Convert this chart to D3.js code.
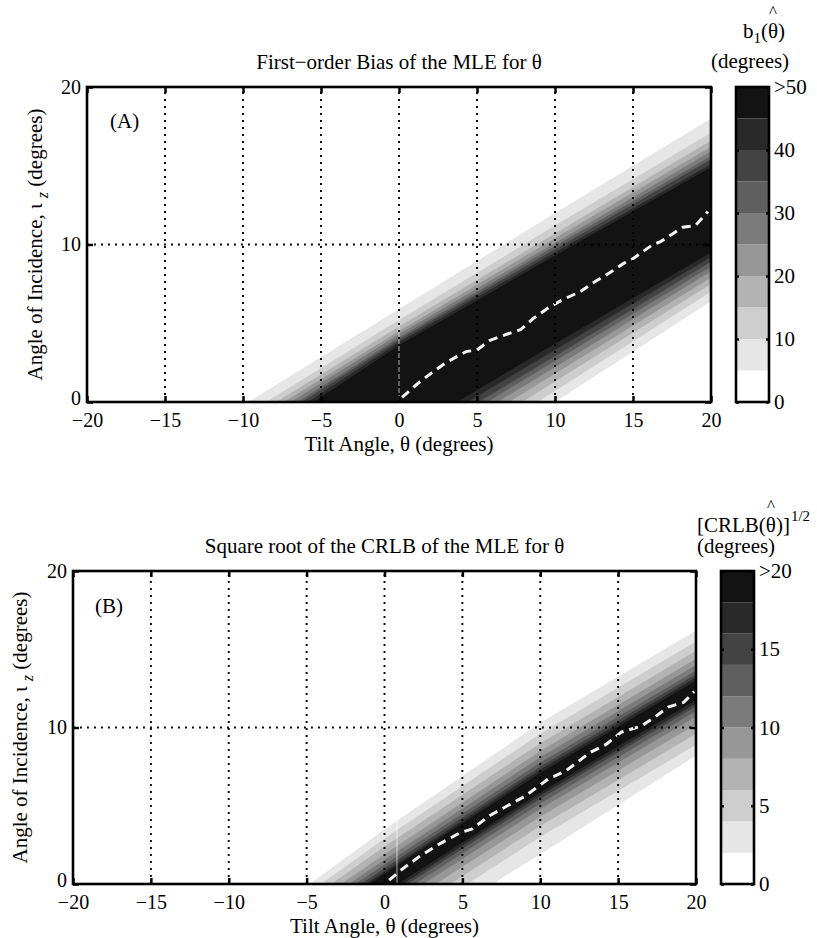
<!DOCTYPE html>
<html><head><meta charset="utf-8">
<script src="https://cdn.jsdelivr.net/npm/d3@7"></script>
<style>
body{margin:0;background:#fff}
svg{display:block}
text{font-family:"Liberation Serif","Times New Roman",serif;fill:#000}
</style>
</head><body>
<svg id="chart" width="817" height="938"></svg>
<script>
// ---------- data ----------
const xTicks = [-20, -15, -10, -5, 0, 5, 10, 15, 20];
const yTicks = [0, 10, 20];
const gridX = [-15, -10, -5, 0, 5, 10, 15];
const gridY = [10];
const edgeX = [-20, -10, 0, 10, 20];              // theta positions where contour edges were read
const grays = ['#ffffff','#e6e6e6','#cecece','#b3b3b3','#979797','#7b7b7b','#5f5f5f','#434343','#292929','#131313'];

// Panel A: first-order bias (levels 5..45 deg), upper / lower contour edges (iota at edgeX)
const levelsA = [0, 5, 10, 15, 20, 25, 30, 35, 40, 45, 50];
const upperA = [
  [-6.2, -0.2, 5.9, 12.0, 18.0],
  [-7.0, -0.9, 5.2, 11.2, 17.1],
  [-7.5, -1.3, 4.8, 10.7, 16.6],
  [-7.9, -1.6, 4.5, 10.4, 16.2],
  [-8.2, -1.9, 4.3, 10.1, 15.9],
  [-8.5, -2.2, 4.1, 9.9, 15.6],
  [-8.8, -2.4, 3.95, 9.7, 15.4],
  [-9.0, -2.7, 3.8, 9.5, 15.1],
  [-9.3, -3.0, 3.6, 9.3, 14.9]
];
const lowerA = [
  [-19.2, -12.8, -6.4, 0.0, 6.4],
  [-18.2, -11.9, -5.6, 0.7, 7.0],
  [-17.4, -11.1, -4.9, 1.3, 7.5],
  [-16.7, -10.5, -4.3, 1.8, 7.9],
  [-16.1, -10.0, -3.8, 2.2, 8.3],
  [-15.6, -9.5, -3.4, 2.6, 8.6],
  [-15.1, -9.0, -3.0, 2.9, 8.9],
  [-14.7, -8.6, -2.6, 3.3, 9.2],
  [-14.3, -8.2, -2.2, 3.7, 9.5]
];
const cbTicksA = [0, 10, 20, 30, 40, 50];
const cbLabelsA = ['0', '10', '20', '30', '40', '>50'];

// Panel B: sqrt CRLB (levels 2..18 deg)
const levelsB = [0, 2, 4, 6, 8, 10, 12, 14, 16, 18, 20];
const upperB = [
  [-10.0, -3.8, 3.5, 10.3, 16.2],
  [-10.4, -4.2, 2.9, 9.6, 15.5],
  [-10.8, -4.6, 2.4, 9.0, 14.9],
  [-11.1, -4.9, 1.9, 8.5, 14.4],
  [-11.4, -5.2, 1.55, 8.1, 14.0],
  [-11.6, -5.4, 1.25, 7.75, 13.65],
  [-11.8, -5.6, 1.0, 7.5, 13.4],
  [-11.95, -5.75, 0.8, 7.3, 13.2],
  [-12.1, -5.9, 0.65, 7.1, 13.0]
];
const lowerB = [
  [-16.7, -10.5, -4.3, 1.9, 8.2],
  [-15.8, -9.6, -3.4, 3.0, 8.9],
  [-15.1, -8.9, -2.7, 3.7, 9.6],
  [-14.5, -8.3, -2.1, 4.3, 10.2],
  [-14.0, -7.8, -1.6, 4.8, 10.7],
  [-13.65, -7.45, -1.25, 5.15, 11.05],
  [-13.35, -7.15, -0.95, 5.45, 11.35],
  [-13.15, -6.95, -0.75, 5.65, 11.55],
  [-12.95, -6.75, -0.55, 5.85, 11.75]
];
const cbTicksB = [0, 5, 10, 15, 20];
const cbLabelsB = ['0', '5', '10', '15', '>20'];

// zero-bias curve (white dashed line)
const curveThetaA = [0.2, 1.35, 3.0, 4.3, 5.0, 5.8, 6.9, 7.8, 8.6, 9.6, 10.5, 11.6, 12.5, 13.5, 14.4, 15.0, 16.2, 16.8, 18.2, 19.0, 19.8];
const curveIotaA  = [0.3, 1.3, 2.5, 3.2, 3.3, 3.9, 4.3, 4.6, 5.3, 6.0, 6.5, 7.0, 7.6, 8.2, 8.8, 9.1, 9.95, 10.2, 11.1, 11.2, 12.1];
const curveThetaB = [0.3, 1.2, 2.3, 3.6, 4.9, 5.6, 6.8, 7.9, 9.0, 10.5, 11.6, 13.2, 14.2, 15.2, 16.5, 17.4, 18.2, 19.2, 19.9];
const curveIotaB  = [0.25, 1.0, 1.8, 2.6, 3.3, 3.5, 4.4, 5.0, 5.6, 6.7, 7.2, 8.4, 8.9, 9.7, 10.1, 10.7, 11.3, 11.6, 12.3];

const artifactA = [0];
const artifactB = [0.8];

// ---------- drawing ----------
const svg = d3.select('#chart');
const FS = 21;
const TFS = 20;

function drawPanel(o) {
  const x = d3.scaleLinear().domain([-20, 20]).range([o.left, o.right]);
  const y = d3.scaleLinear().domain([0, 20]).range([o.bottom, o.top]);
  const g = svg.append('g');
  const clipId = 'clip' + o.id;
  svg.append('defs').append('clipPath').attr('id', clipId)
    .append('rect').attr('x', o.left).attr('y', o.top)
    .attr('width', o.right - o.left).attr('height', o.bottom - o.top);

  const field = g.append('g').attr('clip-path', `url(#${clipId})`);
  field.append('rect').attr('x', o.left).attr('y', o.top)
    .attr('width', o.right - o.left).attr('height', o.bottom - o.top).attr('fill', grays[0]);

  o.upper.forEach((up, i) => {
    const lo = o.lower[i];
    const pts = edgeX.map((t, k) => ({t, lo: lo[k], up: up[k]}));
    const area = d3.area().x(d => x(d.t)).y0(d => y(d.lo)).y1(d => y(d.up));
    field.append('path').attr('d', area(pts)).attr('fill', grays[i + 1]);
  });

  // thin light column artifacts (only visible over the dark field)
  o.artifacts.forEach(a => {
    field.append('line').attr('x1', x(a)).attr('x2', x(a)).attr('y1', o.top).attr('y2', o.bottom)
      .attr('stroke', '#ffffff').attr('stroke-opacity', 0.55).attr('stroke-width', 1.2);
  });

  // dotted grid
  const grid = g.append('g').attr('stroke', '#000').attr('stroke-width', 1.9)
    .attr('stroke-dasharray', '1.9,5.1').attr('fill', 'none');
  gridX.forEach(v => grid.append('line').attr('x1', x(v)).attr('x2', x(v)).attr('y1', o.bottom).attr('y2', o.top));
  gridY.forEach(v => grid.append('line').attr('x1', o.left).attr('x2', o.right).attr('y1', y(v)).attr('y2', y(v)));

  // dashed zero-bias curve
  const line = d3.line().x(d => x(d[0])).y(d => y(d[1]));
  field.append('path').attr('d', line(d3.zip(o.cx, o.cy)))
    .attr('fill', 'none').attr('stroke', '#f4f4f4').attr('stroke-width', 3)
    .attr('stroke-dasharray', '9,6');

  // axes (inward ticks)
  const styleAxis = (sel, fs) => {
    sel.select('.domain').remove();
    sel.selectAll('.tick line').attr('stroke', '#000').attr('stroke-width', 2.5);
    sel.selectAll('text').style('font-size', (fs || TFS) + 'px').style('font-family', '"Liberation Serif",serif').attr('fill', '#000');
  };
  const fmt = v => (v < 0 ? '\u2212' + Math.abs(v) : String(v));
  g.append('g').attr('transform', `translate(0,${o.bottom})`)
    .call(d3.axisBottom(x).tickValues(xTicks).tickSize(-6).tickPadding(11).tickFormat(fmt)).call(styleAxis);
  g.append('g').attr('transform', `translate(0,${o.top})`)
    .call(d3.axisTop(x).tickValues(xTicks).tickSize(-6).tickFormat('')).call(styleAxis);
  const yax = g.append('g').attr('transform', `translate(${o.left},0)`)
    .call(d3.axisLeft(y).tickValues(yTicks).tickSize(-6).tickPadding(6).tickFormat(fmt)).call(styleAxis);
  yax.selectAll('.tick text').filter(d => d === 0).attr('dy', '0.1em');
  g.append('g').attr('transform', `translate(${o.right},0)`)
    .call(d3.axisRight(y).tickValues(yTicks).tickSize(-6).tickFormat('')).call(styleAxis);

  g.append('rect').attr('x', o.left).attr('y', o.top)
    .attr('width', o.right - o.left).attr('height', o.bottom - o.top)
    .attr('fill', 'none').attr('stroke', '#000').attr('stroke-width', 2.6);

  // texts
  g.append('text').attr('x', (o.left + o.right) / 2).attr('y', o.titleY)
    .attr('text-anchor', 'middle').style('font-size', FS + 'px').text(o.title);
  g.append('text').attr('x', (o.left + o.right) / 2).attr('y', o.xlabY)
    .attr('text-anchor', 'middle').style('font-size', FS + 'px').text('Tilt Angle, \u03B8 (degrees)');
  const yl = g.append('text').attr('transform', `translate(${o.ylabX},${(o.top + o.bottom) / 2}) rotate(-90)`)
    .attr('text-anchor', 'middle').style('font-size', FS + 'px');
  yl.append('tspan').text('Angle of Incidence, \u03B9 ');
  yl.append('tspan').attr('dy', 6).style('font-size', '16px').style('font-style', 'italic').text('z');
  yl.append('tspan').attr('dy', -6).text(' (degrees)');
  g.append('text').attr('x', o.tagX).attr('y', o.tagY).style('font-size', FS + 'px').text(o.tag);

  // colorbar
  const cb = o.cb;
  const cy = d3.scaleLinear().domain([cb.levels[0], cb.levels[cb.levels.length - 1]]).range([cb.bottom, cb.top]);
  const cg = svg.append('g');
  cg.selectAll('rect.band').data(d3.pairs(cb.levels)).enter().append('rect')
    .attr('x', cb.left).attr('width', cb.width)
    .attr('y', d => cy(d[1])).attr('height', d => cy(d[0]) - cy(d[1]))
    .attr('fill', (d, i) => grays[i]);
  cg.append('g').attr('transform', `translate(${cb.left + cb.width},0)`)
    .call(d3.axisRight(cy).tickValues(cb.ticks).tickSize(-3).tickPadding(5).tickFormat((v, i) => cb.labels[i]))
    .call(s => styleAxis(s, FS));
  cg.append('g').attr('transform', `translate(${cb.left},0)`)
    .call(d3.axisLeft(cy).tickValues(cb.ticks).tickSize(-3).tickFormat('')).call(styleAxis);
  cg.append('rect').attr('x', cb.left).attr('y', cb.top).attr('width', cb.width).attr('height', cb.bottom - cb.top)
    .attr('fill', 'none').attr('stroke', '#000').attr('stroke-width', 2.6);
}

function addHat(textSel, index) {
  const node = textSel.node();
  const ext = node.getExtentOfChar(index);
  svg.append('text').attr('x', ext.x + ext.width / 2).attr('y', ext.y - 2)
    .attr('text-anchor', 'middle').style('font-size', '17px').text('^');
}

drawPanel({
  id: 'A', left: 87, right: 711, top: 87, bottom: 402,
  upper: upperA, lower: lowerA, cx: curveThetaA, cy: curveIotaA, artifacts: artifactA,
  title: 'First\u2212order Bias of the MLE for \u03B8', titleY: 69, xlabY: 451, ylabX: 42,
  tag: '(A)', tagX: 110, tagY: 128,
  cb: {left: 736, width: 33, top: 87, bottom: 402, levels: levelsA, ticks: cbTicksA, labels: cbLabelsA}
});
drawPanel({
  id: 'B', left: 73, right: 696, top: 571, bottom: 884,
  upper: upperB, lower: lowerB, cx: curveThetaB, cy: curveIotaB, artifacts: artifactB,
  title: 'Square root of the CRLB of the MLE for \u03B8', titleY: 553, xlabY: 933, ylabX: 27,
  tag: '(B)', tagX: 95, tagY: 613,
  cb: {left: 721, width: 33, top: 571, bottom: 884, levels: levelsB, ticks: cbTicksB, labels: cbLabelsB}
});

// colorbar headers
const hA = svg.append('text').attr('x', 743).attr('y', 38).style('font-size', FS + 'px');
hA.append('tspan').text('b');
hA.append('tspan').attr('dy', 5).style('font-size', '15px').text('1');
hA.append('tspan').attr('dy', -5).text('(\u03B8)');
addHat(hA, 3);
svg.append('text').attr('x', 711).attr('y', 68).style('font-size', FS + 'px').text('(degrees)');

const hB = svg.append('text').attr('x', 697).attr('y', 532).style('font-size', FS + 'px');
hB.append('tspan').text('[CRLB(\u03B8)]');
hB.append('tspan').attr('dy', -11).attr('dx', 1).style('font-size', '15px').text('1/2');
addHat(hB, 6);
svg.append('text').attr('x', 697).attr('y', 553).style('font-size', FS + 'px').text('(degrees)');
</script>
</body></html>
